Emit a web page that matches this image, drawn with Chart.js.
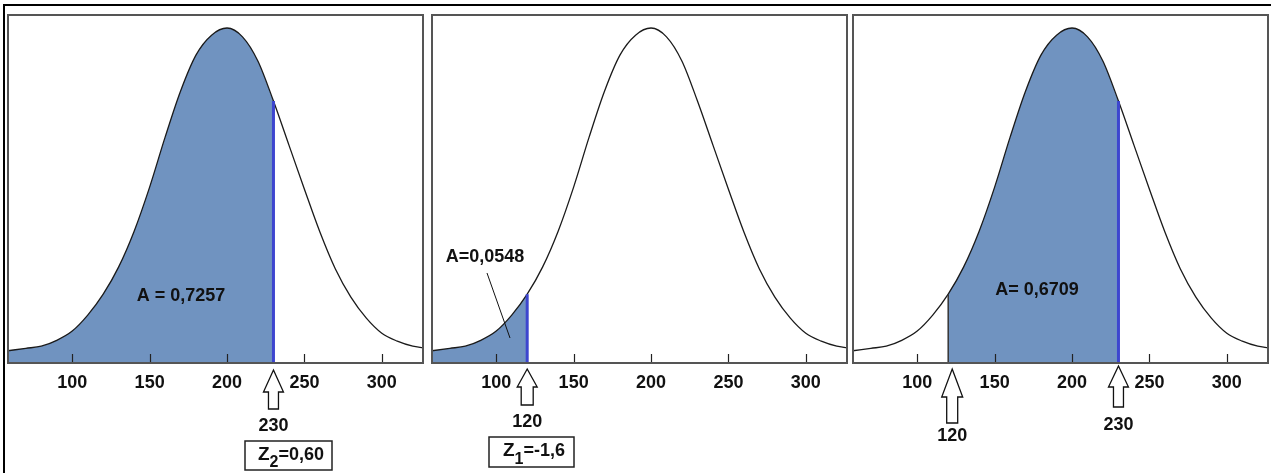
<!DOCTYPE html>
<html>
<head>
<meta charset="utf-8">
<script src="https://cdn.jsdelivr.net/npm/chart.js@4.4.1/dist/chart.umd.min.js"></script>
<style>
  html, body { margin: 0; padding: 0; background: #fff; }
  #wrap { position: relative; width: 1271px; height: 473px; overflow: hidden; background: #fff; }
  #wrap canvas { position: absolute; left: 0; top: 0; }
  #frame { position: absolute; left: 3px; top: 4px; width: 1268px; height: 469px;
           border-top: 2px solid #000; border-left: 2px solid #000; box-sizing: border-box; }
</style>
</head>
<body>
<div id="wrap">
  <div id="frame"></div>
  <canvas id="p1" width="1271" height="473"></canvas>
  <canvas id="p2" width="1271" height="473"></canvas>
  <canvas id="p3" width="1271" height="473"></canvas>
</div>
<script>
// Normal curve, mean 200, sd 50: x values and density (per mille)
const xValues = [58, 70, 80, 90, 100, 110, 120, 130, 140, 150, 160, 170, 180, 190, 200,
                 210, 220, 230, 240, 250, 260, 270, 280, 290, 300, 310, 320, 327];
const density = [0.29, 0.35, 0.40, 0.54, 0.76, 1.14, 1.64, 2.29, 3.14, 4.19, 5.38, 6.48, 7.34, 7.81, 7.98,
                 7.77, 7.19, 6.24, 5.19, 4.14, 3.12, 2.24, 1.57, 1.07, 0.71, 0.52, 0.40, 0.36];
const tickValues = [100, 150, 200, 250, 300];

// Shaded interval of each panel (null = open to the left)
const shadeFrom = [null, null, 120];
const shadeTo = [230, 120, 230];
const areaText = ['A = 0,7257', 'A=0,0548', 'A= 0,6709'];
const cutValues = [[230], [120], [120, 230]];
const zMain = ['Z', 'Z'];
const zSub = ['2', '1'];
const zRest = ['=0,60', '=-1,6'];

const X_MIN = 58.5, X_MAX = 326.6, Y_MAX = 8.29;
const FONT = '"Liberation Sans", Arial, Helvetica, sans-serif';
const SHADE = '#7093c0';
const CUT_BLUE = '#3d46cf';

const curvePoints = xValues.map((x, i) => ({ x, y: density[i] }));
function shadedPoints(from, to) {
  return xValues
    .map((x, i) => ({ x, y: density[i] }))
    .filter(p => (from == null || p.x >= from) && p.x <= to);
}
function densityAt(v) { return density[xValues.indexOf(v)]; }

// Layout of the three panels
const panels = [
  {
    id: 'p1', left: 8, right: 423,
    areaPos: { x: 181, y: 301 },
    cutStyle: [{ color: CUT_BLUE, width: 3 }],
    arrows: [{ value: 230, dx: 0, tip: 370, base: 392, bottom: 409, half: 10, shaft: 5, labelY: 431 }],
    zBox: { x: 245, y: 441, w: 87, h: 29, tx: 258, ty: 459.5, subDy: 7 }
  },
  {
    id: 'p2', left: 432, right: 847,
    areaPos: { x: 485, y: 262 },
    leader: [[487, 273], [510, 338]],
    cutStyle: [{ color: CUT_BLUE, width: 3 }],
    arrows: [{ value: 120, dx: 0, tip: 369, base: 387, bottom: 405, half: 10, shaft: 6, labelY: 427 }],
    zBox: { x: 489, y: 437, w: 85, h: 30, tx: 503, ty: 455.5, subDy: 8 }
  },
  {
    id: 'p3', left: 853, right: 1268,
    areaPos: { x: 1037, y: 294.5 },
    cutStyle: [{ color: '#333', width: 1.5 }, { color: CUT_BLUE, width: 3 }],
    arrows: [
      { value: 120, dx: 4, tip: 369, base: 397, bottom: 423, half: 10.5, shaft: 5.5, labelY: 441 },
      { value: 230, dx: 0, tip: 366, base: 387, bottom: 407, half: 10, shaft: 5, labelY: 429.5 }
    ]
  }
];

function drawArrow(ctx, c, a) {
  ctx.beginPath();
  ctx.moveTo(c, a.tip);
  ctx.lineTo(c + a.half, a.base);
  ctx.lineTo(c + a.shaft, a.base);
  ctx.lineTo(c + a.shaft, a.bottom);
  ctx.lineTo(c - a.shaft, a.bottom);
  ctx.lineTo(c - a.shaft, a.base);
  ctx.lineTo(c - a.half, a.base);
  ctx.closePath();
  ctx.fillStyle = '#fff';
  ctx.fill();
  ctx.strokeStyle = '#111';
  ctx.lineWidth = 1.3;
  ctx.stroke();
}

function makePanelPlugin(k) {
  const p = panels[k];
  return {
    id: 'panelDecor' + k,
    afterDatasetsDraw(chart) {
      const { ctx, chartArea: a, scales: { x, y } } = chart;
      ctx.save();
      // cut lines at the interval limits
      cutValues[k].forEach((v, j) => {
        const px = x.getPixelForValue(v);
        const st = p.cutStyle[j];
        ctx.beginPath();
        ctx.moveTo(px, a.bottom);
        ctx.lineTo(px, y.getPixelForValue(densityAt(v)));
        ctx.strokeStyle = st.color;
        ctx.lineWidth = st.width;
        ctx.stroke();
      });
      // inward tick marks
      ctx.strokeStyle = '#222';
      ctx.lineWidth = 1.2;
      x.ticks.forEach(t => {
        const px = Math.round(x.getPixelForValue(t.value)) + 0.5;
        ctx.beginPath();
        ctx.moveTo(px, a.bottom);
        ctx.lineTo(px, a.bottom - 9);
        ctx.stroke();
      });
      // panel frame
      ctx.strokeStyle = '#555';
      ctx.lineWidth = 2;
      ctx.strokeRect(a.left, a.top, a.right - a.left, a.bottom - a.top);
      ctx.restore();
    },
    afterDraw(chart) {
      const { ctx, scales: { x } } = chart;
      ctx.save();
      ctx.fillStyle = '#111';
      ctx.textBaseline = 'alphabetic';
      ctx.font = 'bold 18px ' + FONT;
      ctx.textAlign = 'center';
      ctx.fillText(areaText[k], p.areaPos.x, p.areaPos.y);
      if (p.leader) {
        ctx.beginPath();
        ctx.moveTo(p.leader[0][0], p.leader[0][1]);
        ctx.lineTo(p.leader[1][0], p.leader[1][1]);
        ctx.strokeStyle = '#111';
        ctx.lineWidth = 1;
        ctx.stroke();
      }
      p.arrows.forEach(ar => {
        const c = x.getPixelForValue(ar.value) + ar.dx;
        drawArrow(ctx, c, ar);
        ctx.fillStyle = '#111';
        ctx.font = 'bold 18px ' + FONT;
        ctx.textAlign = 'center';
        ctx.fillText(String(ar.value), c, ar.labelY);
      });
      if (p.zBox) {
        const b = p.zBox;
        ctx.strokeStyle = '#222';
        ctx.lineWidth = 1.5;
        ctx.strokeRect(b.x, b.y, b.w, b.h);
        ctx.textAlign = 'left';
        ctx.fillStyle = '#111';
        ctx.font = 'bold 19px ' + FONT;
        let tx = b.tx;
        ctx.fillText(zMain[k], tx, b.ty);
        tx += ctx.measureText(zMain[k]).width;
        ctx.font = 'bold 16px ' + FONT;
        ctx.fillText(zSub[k], tx, b.ty + b.subDy);
        tx += ctx.measureText(zSub[k]).width;
        ctx.font = 'bold 18px ' + FONT;
        ctx.fillText(zRest[k], tx, b.ty);
      }
      ctx.restore();
    }
  };
}

panels.forEach((p, k) => {
  new Chart(document.getElementById(p.id), {
    type: 'line',
    data: {
      datasets: [
        {
          data: curvePoints,
          borderColor: '#1a1a1a',
          borderWidth: 1.3,
          pointRadius: 0,
          cubicInterpolationMode: 'monotone',
          fill: false
        },
        {
          data: shadedPoints(shadeFrom[k], shadeTo[k]),
          borderWidth: 0,
          borderColor: 'rgba(0,0,0,0)',
          backgroundColor: SHADE,
          pointRadius: 0,
          cubicInterpolationMode: 'monotone',
          fill: 'origin'
        }
      ]
    },
    options: {
      responsive: false,
      animation: false,
      devicePixelRatio: 1,
      events: [],
      layout: { padding: { left: p.left, right: 1271 - p.right, top: 15, bottom: 0 } },
      plugins: { legend: { display: false }, tooltip: { enabled: false } },
      scales: {
        x: {
          type: 'linear',
          min: X_MIN,
          max: X_MAX,
          grid: { display: false, drawTicks: false },
          border: { display: false },
          afterBuildTicks: s => { s.ticks = tickValues.map(v => ({ value: v })); },
          afterFit: s => { s.height = 110; },
          ticks: {
            color: '#111',
            padding: 9,
            maxRotation: 0,
            autoSkip: false,
            font: { family: FONT, size: 18, weight: 'bold' }
          }
        },
        y: {
          display: false,
          min: 0,
          max: Y_MAX
        }
      }
    },
    plugins: [makePanelPlugin(k)]
  });
});
</script>
</body>
</html>
